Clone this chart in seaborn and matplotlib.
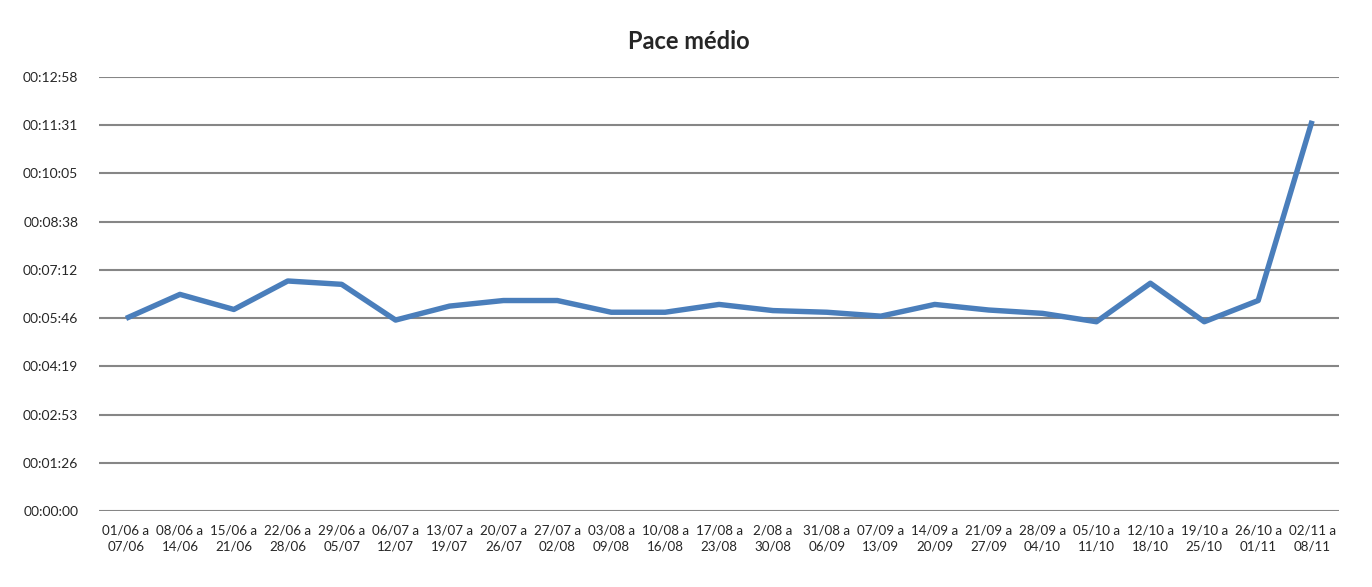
import pandas as pd
from matplotlib import pyplot as plt
from matplotlib.ticker import FuncFormatter, MultipleLocator
import seaborn as sns

# semanas (inicio a fim)
inicio = ["01/06", "08/06", "15/06", "22/06", "29/06", "06/07", "13/07", "20/07",
          "27/07", "03/08", "10/08", "17/08", "2/08", "31/08", "07/09", "14/09",
          "21/09", "28/09", "05/10", "12/10", "19/10", "26/10", "02/11"]
fim = ["07/06", "14/06", "21/06", "28/06", "05/07", "12/07", "19/07", "26/07",
       "02/08", "09/08", "16/08", "23/08", "30/08", "06/09", "13/09", "20/09",
       "27/09", "04/10", "11/10", "18/10", "25/10", "01/11", "08/11"]
# pace medio em segundos por km
pace_seg = [345, 388, 361, 412, 406, 342, 367, 377, 377, 356, 356, 370, 359, 356,
            349, 370, 360, 354, 339, 408, 339, 377, 699]

df = pd.DataFrame({"semana": range(len(inicio)), "pace": pace_seg})
labels = [a + " a\n" + b for a, b in zip(inicio, fim)]

sns.set_style("white")
plt.rcParams["font.family"] = ["Lato", "DejaVu Sans"]

fig = plt.figure(figsize=(13.72, 5.87), dpi=100)
ax = fig.add_axes([0.0722, 0.1295, 0.9038, 0.7395])

sns.lineplot(x="semana", y="pace", data=df, ax=ax, color="#4a7ebb", linewidth=3.9,
             sort=False, solid_capstyle="butt", zorder=3)

ax.set_xlim(-0.5, len(inicio) - 0.5)
ax.set_ylim(0, 777.6)
ax.yaxis.set_major_locator(MultipleLocator(86.4))


def hms(v, pos):
    s = int(round(v))
    return "%02d:%02d:%02d" % (s // 3600, (s % 3600) // 60, s % 60)


ax.yaxis.set_major_formatter(FuncFormatter(hms))
ax.set_xticks(range(len(labels)))
ax.set_xticklabels(labels, fontsize=9.6, linespacing=1.35)
ax.tick_params(axis="y", labelsize=10, length=0, pad=15)
ax.tick_params(axis="x", length=0, pad=10)
ax.grid(axis="y", color="#868686", linewidth=1.5)
ax.set_axisbelow(True)
for s in ax.spines.values():
    s.set_visible(False)
ax.set_xlabel("")
ax.set_ylabel("")
fig.text(0.502, 0.93, "Pace médio", fontsize=17, fontweight="bold",
         ha="center", va="center")

fig.savefig("out.png", dpi=100)
